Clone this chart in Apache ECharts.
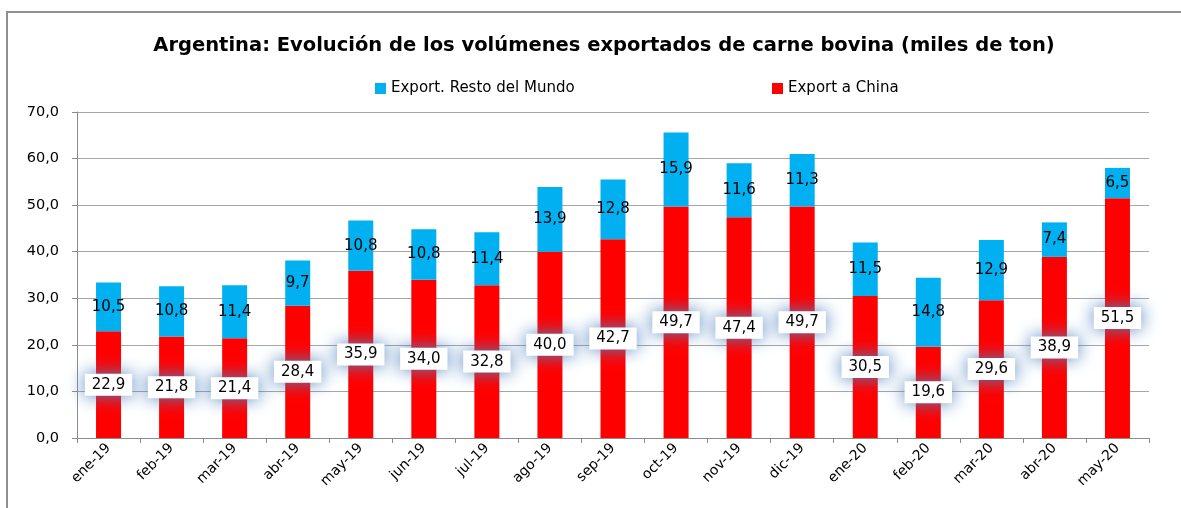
<!DOCTYPE html>
<html>
<head>
<meta charset="utf-8">
<script src="https://cdn.jsdelivr.net/npm/echarts@6/dist/echarts.min.js"></script>
<style>
  html, body { margin: 0; padding: 0; background: #fff; }
  #chart { width: 1181px; height: 508px; }
</style>
</head>
<body>
<div id="chart"></div>
<script>
const months = ['ene-19', 'feb-19', 'mar-19', 'abr-19', 'may-19', 'jun-19', 'jul-19', 'ago-19', 'sep-19',
  'oct-19', 'nov-19', 'dic-19', 'ene-20', 'feb-20', 'mar-20', 'abr-20', 'may-20']
const exportChina = [22.9, 21.8, 21.4, 28.4, 35.9, 34.0, 32.8, 40.0, 42.7, 49.7, 47.4, 49.7, 30.5, 19.6, 29.6, 38.9, 51.5]
const exportResto = [10.5, 10.8, 11.4, 9.7, 10.8, 10.8, 11.4, 13.9, 12.8, 15.9, 11.6, 11.3, 11.5, 14.8, 12.9, 7.4, 6.5]

const FONT = 'DejaVu Sans'
const fmt = v => Number(v).toFixed(1).replace('.', ',')

const chart = echarts.init(document.getElementById('chart'), null, { renderer: 'canvas' })

chart.setOption({
  animation: false,
  textStyle: { fontFamily: FONT },
  title: {
    text: 'Argentina: Evolución de los volúmenes exportados de carne bovina (miles de ton)',
    left: 599, top: 31, textAlign: 'center',
    textStyle: { fontFamily: FONT, fontSize: 19.5, fontWeight: 'bold', color: '#000' },
  },
  legend: [
    {
      left: 370, top: 76, itemWidth: 11, itemHeight: 11, itemGap: 0,
      icon: 'rect',
      data: ['Export. Resto del Mundo'],
      textStyle: { fontFamily: FONT, fontSize: 15, color: '#000' },
    },
    {
      left: 767, top: 76, itemWidth: 11, itemHeight: 11, itemGap: 0,
      icon: 'rect',
      data: ['Export a China'],
      textStyle: { fontFamily: FONT, fontSize: 15, color: '#000' },
    },
  ],
  graphic: [{
    type: 'rect', silent: true,
    shape: { x: 7, y: 12, width: 1300, height: 700 },
    style: { fill: 'none', stroke: '#8f8f8f', lineWidth: 2 },
  }],
  grid: { left: 77, right: 32, top: 112, bottom: 70 },
  xAxis: {
    type: 'category',
    data: months,
    axisLine: { lineStyle: { color: '#8c8c8c', width: 1 } },
    axisTick: { show: true, length: 5, lineStyle: { color: '#8c8c8c' } },
    axisLabel: { rotate: 45, fontSize: 14, color: '#000', margin: 8, fontFamily: FONT },
  },
  yAxis: {
    type: 'value',
    min: 0, max: 70, interval: 10,
    axisLine: { show: true, lineStyle: { color: '#8c8c8c', width: 1 } },
    axisTick: { show: true, length: 5, lineStyle: { color: '#8c8c8c' } },
    axisLabel: { fontSize: 14.5, color: '#000', margin: 18, formatter: v => fmt(v), fontFamily: FONT },
    splitLine: { lineStyle: { color: '#a6a6a6', width: 1 } },
  },
  series: [
    {
      name: 'Export a China',
      type: 'bar',
      stack: 'total',
      barWidth: 25,
      data: exportChina,
      itemStyle: { color: '#ff0000' },
      label: {
        show: true, position: 'inside',
        formatter: p => fmt(p.value),
        fontFamily: FONT, fontSize: 15, color: '#000',
        backgroundColor: '#fff',
        padding: [4, 7, 3, 7],
        shadowBlur: 18, shadowColor: 'rgba(79,129,189,1)',
      },
    },
    {
      name: 'Export. Resto del Mundo',
      type: 'bar',
      stack: 'total',
      barWidth: 25,
      data: exportResto,
      itemStyle: { color: '#00b0f0' },
      label: {
        show: true, position: 'inside',
        formatter: p => fmt(p.value),
        fontFamily: FONT, fontSize: 15, color: '#000',
      },
    },
  ],
})
</script>
</body>
</html>
